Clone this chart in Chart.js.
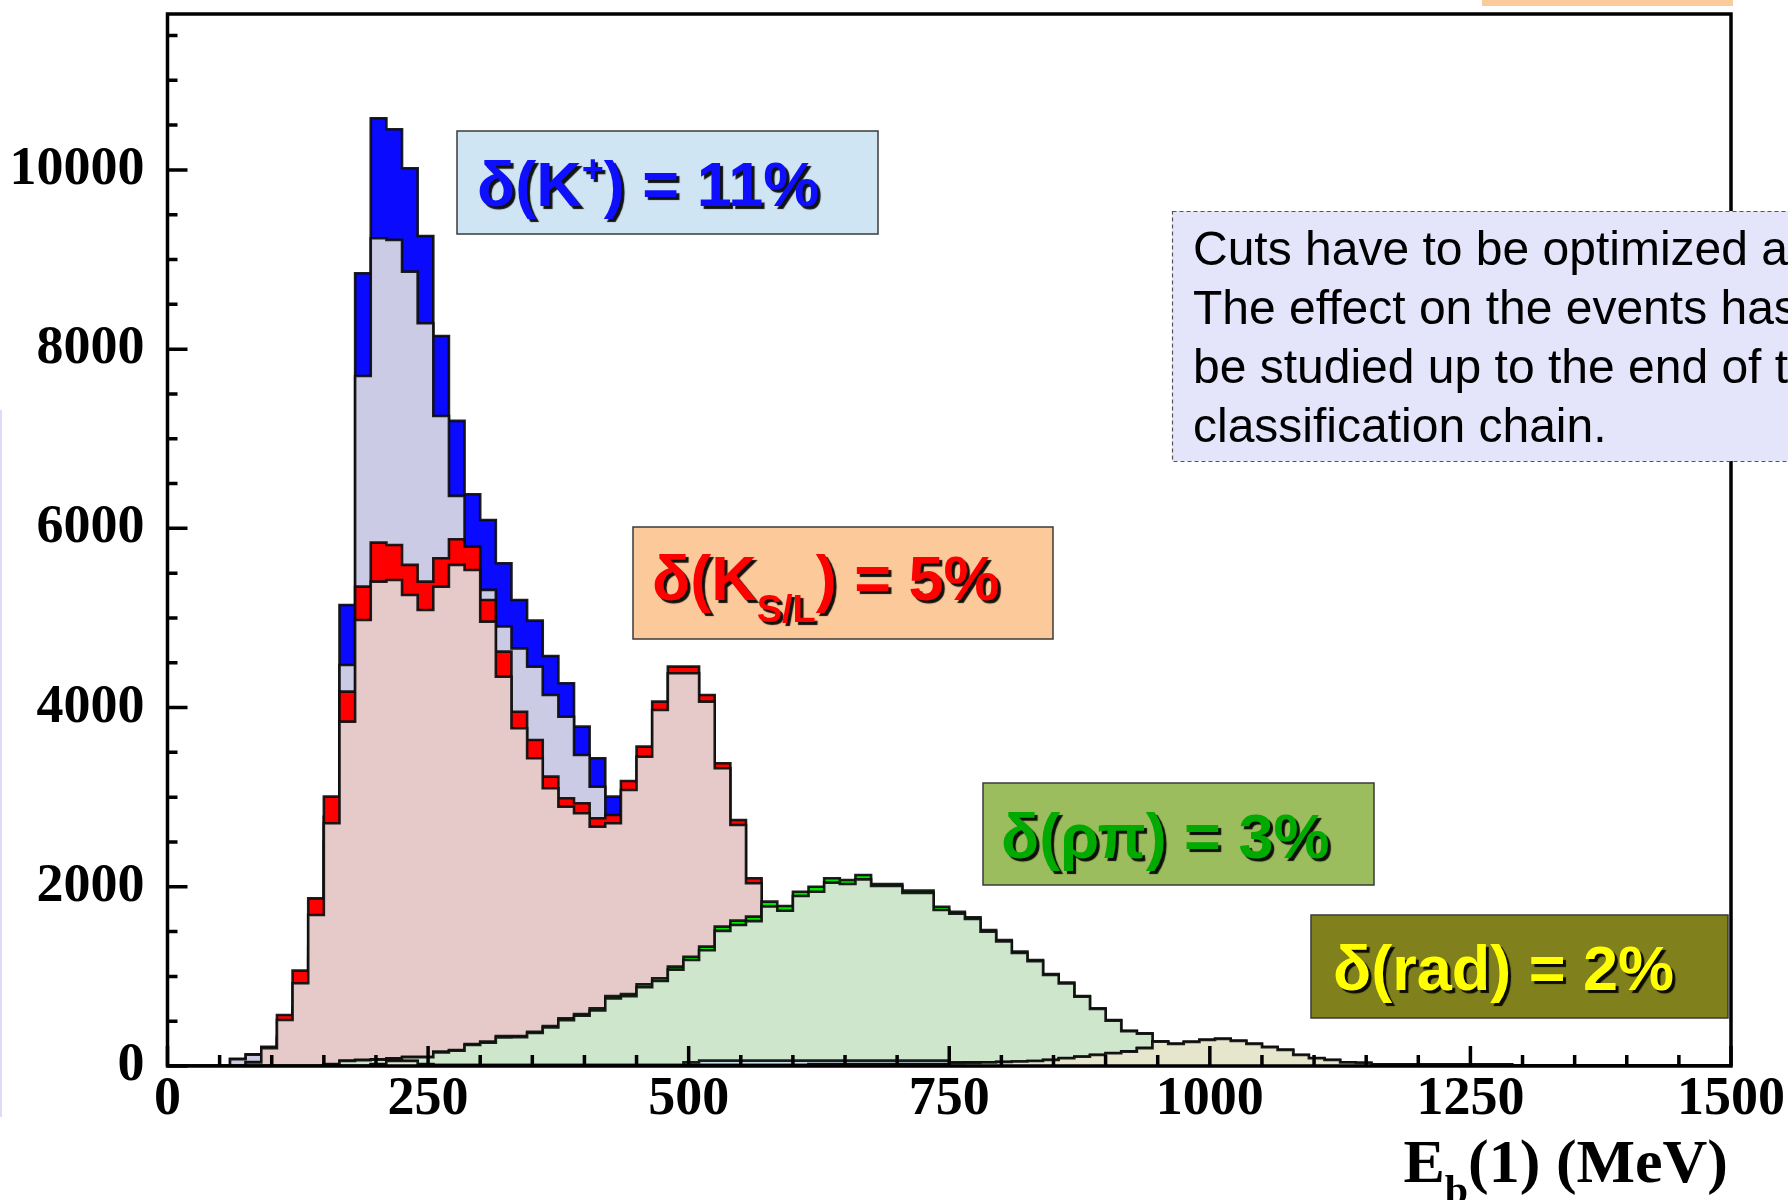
<!DOCTYPE html>
<html>
<head>
<meta charset="utf-8">
<title>E_b(1) spectrum</title>
<script src="https://cdn.jsdelivr.net/npm/chart.js@4.4.1/dist/chart.umd.min.js"></script>
<style>
  html, body { margin: 0; padding: 0; background: #ffffff; }
  #wrap { position: relative; width: 1788px; height: 1200px; overflow: hidden; }
</style>
</head>
<body>
<div id="wrap"><canvas id="chart"></canvas></div>
<script>
// ---- binning: 100 bins of 15 MeV from 0 to 1500 MeV ----
const binWidth = 15;
const binEdges = Array.from({ length: 101 }, (_, i) => i * binWidth);

// ---- axis tick labels ----
const xTickLabels = [0, 250, 500, 750, 1000, 1250, 1500];
const yTickLabels = [0, 2000, 4000, 6000, 8000, 10000];
const yMax = 11740;

// ---- K+ channel: nominal and shifted (+delta) counts per bin ----
const kpNom = [
  0, 0, 0, 0, 75, 125, 150, 300, 600, 1200,
  2500, 4475, 7701, 9237, 9219, 8865, 8289, 7254, 6362, 5780,
  5313, 4904, 4661, 4457, 4141, 3898, 3471, 3117, 2790, 120,
  80, 50, 30, 20, 10, 0, 0, 0, 0, 0,
  0, 0, 0, 0, 0, 0, 0, 0, 0, 0,
  0, 0, 0, 0, 0, 0, 0, 0, 0, 0,
  0, 0, 0, 0, 0, 0, 0, 0, 0, 0,
  0, 0, 0, 0, 0, 0, 0, 0, 0, 0,
  0, 0, 0, 0, 0, 0, 0, 0, 0, 0,
  0, 0, 0, 0, 0, 0, 0, 0, 0, 0
];
const kpUp = [
  0, 0, 0, 0, 80, 130, 160, 330, 660, 1330,
  2780, 5145, 8847, 10577, 10454, 10019, 9263, 8147, 7199, 6381,
  6094, 5610, 5201, 4970, 4576, 4271, 3787, 3434, 3006, 135,
  90, 55, 33, 22, 11, 0, 0, 0, 0, 0,
  0, 0, 0, 0, 0, 0, 0, 0, 0, 0,
  0, 0, 0, 0, 0, 0, 0, 0, 0, 0,
  0, 0, 0, 0, 0, 0, 0, 0, 0, 0,
  0, 0, 0, 0, 0, 0, 0, 0, 0, 0,
  0, 0, 0, 0, 0, 0, 0, 0, 0, 0,
  0, 0, 0, 0, 0, 0, 0, 0, 0, 0
];

// ---- K_S/L channel ----
const ksNom = [
  0, 0, 0, 0, 0, 40, 200, 513, 923, 1685,
  2709, 3843, 4978, 5405, 5424, 5257, 5089, 5350, 5592, 5536,
  4959, 4345, 3769, 3434, 3099, 2894, 2820, 2671, 2709, 3080,
  3452, 3973, 4383, 4383, 4066, 3322, 2690, 2039, 500, 200,
  80, 30, 0, 0, 0, 0, 0, 0, 0, 0,
  0, 0, 0, 0, 0, 0, 0, 0, 0, 0,
  0, 0, 0, 0, 0, 0, 0, 0, 0, 0,
  0, 0, 0, 0, 0, 0, 0, 0, 0, 0,
  0, 0, 0, 0, 0, 0, 0, 0, 0, 0,
  0, 0, 0, 0, 0, 0, 0, 0, 0, 0
];
const ksUp = [
  0, 0, 0, 0, 0, 45, 215, 569, 1064, 1871,
  3006, 4178, 5350, 5841, 5815, 5592, 5405, 5666, 5878, 5796,
  5201, 4624, 3954, 3638, 3229, 2988, 2932, 2764, 2801, 3180,
  3564, 4066, 4457, 4457, 4141, 3378, 2746, 2095, 520, 210,
  85, 32, 0, 0, 0, 0, 0, 0, 0, 0,
  0, 0, 0, 0, 0, 0, 0, 0, 0, 0,
  0, 0, 0, 0, 0, 0, 0, 0, 0, 0,
  0, 0, 0, 0, 0, 0, 0, 0, 0, 0,
  0, 0, 0, 0, 0, 0, 0, 0, 0, 0,
  0, 0, 0, 0, 0, 0, 0, 0, 0, 0
];

// ---- rho-pi channel ----
const rpNom = [
  0, 0, 0, 0, 0, 0, 0, 0, 0, 0,
  20, 55, 65, 70, 80, 98, 98, 152, 170, 235,
  260, 320, 322, 368, 430, 512, 560, 620, 755, 778,
  880, 948, 1075, 1183, 1292, 1508, 1573, 1617, 1780, 1733,
  1897, 1945, 2046, 2031, 2083, 2009, 2009, 1930, 1930, 1741,
  1700, 1640, 1500, 1390, 1262, 1170, 1015, 920, 772, 636,
  506, 389, 360, 260, 180, 120, 80, 50, 30, 18,
  10, 5, 0, 0, 0, 0, 0, 0, 0, 0,
  0, 0, 0, 0, 0, 0, 0, 0, 0, 0,
  0, 0, 0, 0, 0, 0, 0, 0, 0, 0
];
const rpUp = [
  0, 0, 0, 0, 0, 0, 0, 0, 0, 0,
  22, 60, 70, 75, 85, 104, 104, 160, 179, 246,
  272, 335, 335, 383, 446, 532, 580, 643, 781, 804,
  912, 979, 1109, 1220, 1332, 1555, 1622, 1667, 1834, 1786,
  1945, 2001, 2095, 2076, 2132, 2031, 2031, 1957, 1957, 1778,
  1722, 1660, 1518, 1406, 1276, 1183, 1027, 930, 781, 644,
  513, 394, 365, 263, 182, 121, 81, 51, 31, 18,
  10, 5, 0, 0, 0, 0, 0, 0, 0, 0,
  0, 0, 0, 0, 0, 0, 0, 0, 0, 0,
  0, 0, 0, 0, 0, 0, 0, 0, 0, 0
];

// ---- small residual background ----
const bkgOther = [
  0, 0, 0, 0, 0, 0, 0, 0, 0, 0,
  0, 0, 0, 0, 0, 0, 0, 0, 0, 0,
  0, 0, 0, 0, 0, 0, 0, 0, 0, 0,
  0, 0, 0, 40, 60, 60, 60, 60, 60, 60,
  60, 60, 60, 60, 60, 60, 60, 60, 60, 60,
  40, 40, 40, 40, 40, 40, 0, 0, 0, 0,
  0, 0, 0, 0, 0, 0, 0, 0, 0, 0,
  0, 0, 0, 0, 0, 0, 0, 0, 0, 0,
  0, 0, 0, 0, 0, 0, 0, 0, 0, 0,
  0, 0, 0, 0, 0, 0, 0, 0, 0, 0
];

// ---- radiative channel ----
const radNom = [
  0, 0, 0, 0, 0, 0, 0, 0, 0, 0,
  0, 0, 0, 20, 55, 55, 20, 10, 10, 10,
  10, 10, 10, 10, 10, 10, 10, 10, 10, 10,
  10, 10, 10, 10, 10, 10, 10, 10, 10, 10,
  10, 20, 20, 20, 20, 20, 20, 20, 20, 20,
  30, 35, 40, 45, 50, 55, 67, 86, 104, 123,
  142, 160, 198, 270, 246, 268, 290, 301, 279, 246,
  210, 179, 123, 86, 67, 40, 35, 17, 17, 17,
  17, 17, 17, 17, 17, 17, 8, 8, 8, 8,
  8, 8, 8, 8, 8, 8, 8, 8, 8, 8
];
const radUp = [
  0, 0, 0, 0, 0, 0, 0, 0, 0, 0,
  0, 0, 0, 21, 57, 57, 21, 11, 11, 11,
  11, 11, 11, 11, 11, 11, 11, 11, 11, 11,
  11, 11, 11, 11, 11, 11, 11, 11, 11, 11,
  11, 21, 21, 21, 21, 21, 21, 21, 21, 21,
  31, 36, 41, 46, 51, 56, 69, 88, 106, 126,
  145, 164, 202, 276, 251, 274, 296, 307, 285, 251,
  214, 183, 126, 88, 69, 41, 36, 18, 18, 18,
  18, 18, 18, 18, 18, 18, 9, 9, 9, 9,
  9, 9, 9, 9, 9, 9, 9, 9, 9, 9
];

// ---- annotation texts ----
const deltaLabels = ['11%', '5%', '3%', '2%'];
const noteLines = [
  'Cuts have to be optimized again.',
  'The effect on the events has to',
  'be studied up to the end of the',
  'classification chain.'
];

// Turn per-bin counts into a histogram outline (flat top over each bin).
function histPoints(vals) {
  const pts = [];
  vals.forEach((v, i) => {
    pts.push({ x: binEdges[i], y: v });
    pts.push({ x: binEdges[i + 1], y: v });
  });
  return pts;
}

function histDataset(label, vals, fillColor, order) {
  return {
    label,
    data: histPoints(vals),
    backgroundColor: fillColor,
    borderColor: 'rgba(12,12,12,0.92)',
    borderWidth: 2.6,
    borderJoinStyle: 'miter',
    fill: 'origin',
    pointRadius: 0,
    tension: 0,
    order
  };
}

const datasets = [
  histDataset('K+ shifted', kpUp, '#0a0aff', 9),
  histDataset('K+', kpNom, '#cbcbe6', 8),
  histDataset('K_S/L shifted', ksUp, '#ff0000', 7),
  histDataset('K_S/L', ksNom, '#e6caca', 6),
  histDataset('rho pi shifted', rpUp, '#00e600', 5),
  histDataset('rho pi', rpNom, '#cde6cc', 4),
  histDataset('other', bkgOther, '#c6dfe9', 3),
  histDataset('rad shifted', radUp, '#9a9a10', 2),
  histDataset('rad', radNom, '#e6e6cc', 1)
];

const serifBold = '"Liberation Serif", "Times New Roman", serif';
const sans = '"Liberation Sans", Arial, sans-serif';

// Frame and ROOT-style inward ticks, drawn over the histograms.
const frameTicks = {
  id: 'frameTicks',
  afterDatasetsDraw(chart) {
    const { ctx, chartArea: a, scales: { x, y } } = chart;
    ctx.save();
    ctx.strokeStyle = '#000';
    ctx.lineWidth = 3.5;
    ctx.lineCap = 'butt';
    ctx.beginPath();
    for (let v = 0; v <= 1500; v += 50) {
      const px = x.getPixelForValue(v);
      const len = xTickLabels.includes(v) ? 20 : 11;
      ctx.moveTo(px, a.bottom);
      ctx.lineTo(px, a.bottom - len);
    }
    for (let v = 0; v <= yMax; v += 500) {
      const py = y.getPixelForValue(v);
      const len = yTickLabels.includes(v) ? 20 : 10;
      ctx.moveTo(a.left, py);
      ctx.lineTo(a.left + len, py);
    }
    ctx.stroke();
    ctx.lineWidth = 3.5;
    ctx.strokeRect(a.left, a.top, a.right - a.left, a.bottom - a.top);
    ctx.restore();
  }
};

function drawRich(ctx, x, baseline, parts, color, family, shadow) {
  ctx.save();
  ctx.fillStyle = color;
  ctx.textAlign = 'left';
  ctx.textBaseline = 'alphabetic';
  if (shadow) {
    ctx.shadowColor = 'rgba(0,0,0,0.92)';
    ctx.shadowOffsetX = 3;
    ctx.shadowOffsetY = 3;
    ctx.shadowBlur = 1;
  }
  let cx = x;
  for (const p of parts) {
    ctx.font = `bold ${p.size}px ${family}`;
    ctx.fillText(p.text, cx, baseline + (p.dy || 0));
    cx += ctx.measureText(p.text).width;
  }
  ctx.restore();
  return cx - x;
}

function measureRich(ctx, parts, family) {
  let w = 0;
  ctx.save();
  for (const p of parts) {
    ctx.font = `bold ${p.size}px ${family}`;
    w += ctx.measureText(p.text).width;
  }
  ctx.restore();
  return w;
}

function box(ctx, x0, y0, x1, y1, fill) {
  ctx.save();
  ctx.fillStyle = fill;
  ctx.fillRect(x0, y0, x1 - x0, y1 - y0);
  ctx.strokeStyle = '#3a3a3a';
  ctx.lineWidth = 1.5;
  ctx.strokeRect(x0, y0, x1 - x0, y1 - y0);
  ctx.restore();
}

// Uncertainty boxes, note box and axis title.
const annotations = {
  id: 'annotations',
  afterDraw(chart) {
    const { ctx } = chart;
    const big = 63, small = 38;

    // slide decorations around the plot
    ctx.save();
    ctx.fillStyle = '#fbcb9c';
    ctx.fillRect(1482, 0, 251, 6);
    ctx.fillStyle = '#dcdcf5';
    ctx.fillRect(0, 410, 2, 707);
    ctx.restore();

    box(ctx, 457, 131, 878, 234, '#cfe5f3');
    drawRich(ctx, 477, 206, [
      { text: 'δ(K', size: big },
      { text: '+', size: small, dy: -24 },
      { text: ') = ' + deltaLabels[0], size: big }
    ], '#0f0fff', sans, true);

    box(ctx, 633, 527, 1053, 639, '#fcca9a');
    drawRich(ctx, 652, 600, [
      { text: 'δ(K', size: big },
      { text: 'S/L', size: small, dy: 22 },
      { text: ') = ' + deltaLabels[1], size: big }
    ], '#ff0000', sans, true);

    box(ctx, 983, 783, 1374, 885, '#9bbd5e');
    drawRich(ctx, 1001, 858, [{ text: 'δ(ρπ) = ' + deltaLabels[2], size: big }], '#00aa00', sans, true);

    box(ctx, 1311, 915, 1728, 1018, '#80801c');
    drawRich(ctx, 1333, 990, [{ text: 'δ(rad) = ' + deltaLabels[3], size: big }], '#ffff00', sans, true);

    // note box
    ctx.save();
    ctx.fillStyle = '#e4e4fa';
    ctx.fillRect(1172, 211, 700, 250);
    ctx.strokeStyle = '#555';
    ctx.lineWidth = 1.2;
    ctx.setLineDash([4, 3]);
    ctx.strokeRect(1172.5, 211.5, 700, 250);
    ctx.setLineDash([]);
    ctx.fillStyle = '#000';
    ctx.font = `48px ${sans}`;
    ctx.textBaseline = 'alphabetic';
    noteLines.forEach((t, i) => ctx.fillText(t, 1193, 265 + i * 59));
    ctx.restore();

    // x-axis title, right-aligned to the frame
    const titleParts = [
      { text: 'E', size: 62 },
      { text: 'b', size: 42, dy: 22 },
      { text: '(1) (MeV)', size: 62 }
    ];
    const tw = measureRich(ctx, titleParts, serifBold);
    drawRich(ctx, 1728 - tw, 1182, titleParts, '#000', serifBold, false);
  }
};

const tickFont = { family: serifBold, weight: 'bold', size: 54 };

new Chart(document.getElementById('chart'), {
  type: 'line',
  data: { datasets },
  options: {
    responsive: true,
    maintainAspectRatio: false,
    animation: false,
    events: [],
    layout: { padding: { left: 0, top: 14, right: 57, bottom: 0 } },
    plugins: { legend: { display: false }, tooltip: { enabled: false } },
    scales: {
      x: {
        type: 'linear',
        min: 0,
        max: 1500,
        grid: { display: false, drawTicks: false },
        border: { display: false },
        afterBuildTicks(s) { s.ticks = xTickLabels.map(v => ({ value: v })); },
        ticks: {
          autoSkip: false,
          maxRotation: 0,
          padding: 2,
          color: '#000',
          font: tickFont,
          callback: v => String(v)
        },
        afterFit(s) { s.height = 134; s.paddingLeft = 0; s.paddingRight = 0; }
      },
      y: {
        type: 'linear',
        min: 0,
        max: yMax,
        grid: { display: false, drawTicks: false },
        border: { display: false },
        afterBuildTicks(s) { s.ticks = yTickLabels.map(v => ({ value: v })); },
        ticks: {
          autoSkip: false,
          padding: 23,
          color: '#000',
          font: tickFont,
          callback: v => String(v)
        },
        afterFit(s) { s.width = 167.5; s.paddingTop = 0; s.paddingBottom = 0; }
      }
    }
  },
  plugins: [frameTicks, annotations]
});
</script>
</body>
</html>
